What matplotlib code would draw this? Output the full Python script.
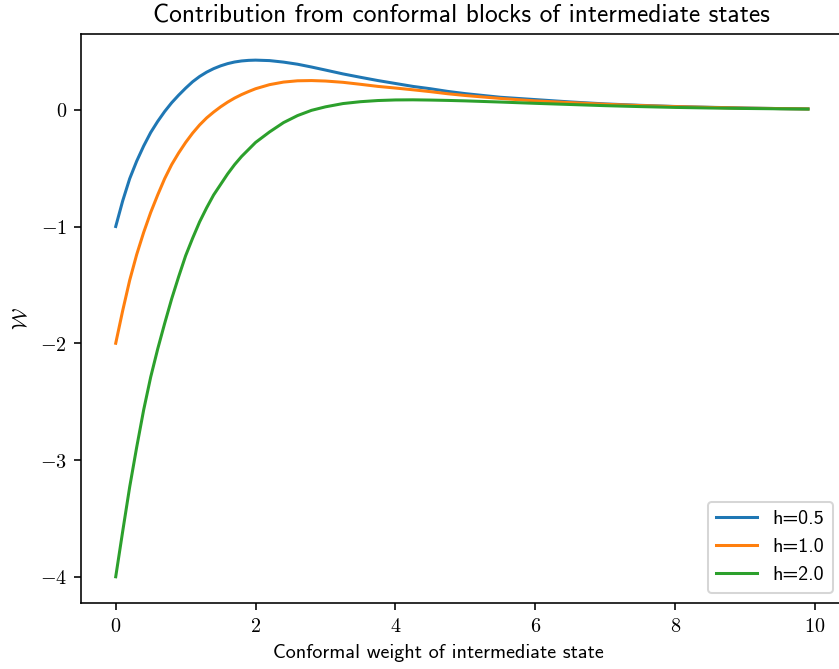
import matplotlib
matplotlib.use("Agg")
import matplotlib.pyplot as plt
from matplotlib.ticker import FuncFormatter

# values
weight = [0.0, 0.1, 0.2, 0.3, 0.4, 0.5, 0.6, 0.7, 0.8, 0.9, 1.0,
          1.1, 1.2, 1.3, 1.4, 1.5, 1.6, 1.7, 1.8, 1.9, 2.0,
          2.2, 2.4, 2.6, 2.8, 3.0,
          3.25, 3.5, 3.75, 4.0,
          4.25, 4.5, 4.75, 5.0,
          5.5, 6.0, 6.5, 7.0, 7.5, 8.0, 8.5, 9.0, 9.5, 9.9]
w_h05 = [-1.00, -0.78, -0.59, -0.44, -0.31, -0.195, -0.10, -0.015, 0.06, 0.125, 0.185,
         0.24, 0.285, 0.322, 0.352, 0.376, 0.395, 0.409, 0.418, 0.423, 0.425,
         0.421, 0.408, 0.39, 0.366, 0.34,
         0.307, 0.278, 0.25, 0.225,
         0.20, 0.18, 0.157, 0.138,
         0.107, 0.087, 0.067, 0.05, 0.038, 0.028, 0.021, 0.015, 0.01, 0.007]
w_h10 = [-2.00, -1.72, -1.46, -1.24, -1.05, -0.88, -0.73, -0.59, -0.47, -0.37, -0.28,
         -0.20, -0.13, -0.07, -0.02, 0.025, 0.065, 0.10, 0.13, 0.156, 0.18,
         0.215, 0.237, 0.248, 0.25, 0.246,
         0.235, 0.218, 0.20, 0.186,
         0.171, 0.155, 0.137, 0.122,
         0.097, 0.076, 0.061, 0.047, 0.036, 0.027, 0.02, 0.014, 0.01, 0.007]
w_h20 = [-4.00, -3.61, -3.23, -2.89, -2.57, -2.29, -2.05, -1.83, -1.62, -1.43, -1.25,
         -1.10, -0.96, -0.84, -0.73, -0.64, -0.55, -0.47, -0.40, -0.34, -0.28,
         -0.19, -0.11, -0.05, -0.005, 0.025,
         0.053, 0.069, 0.079, 0.084,
         0.085, 0.083, 0.08, 0.076,
         0.066, 0.055, 0.045, 0.035, 0.027, 0.02, 0.015, 0.011, 0.008, 0.006]
labels = ["h=0.5", "h=1.0", "h=2.0"]

plt.rcParams['mathtext.fontset'] = 'cm'
sans = ['cmss10', 'DejaVu Sans']

fig = plt.figure(figsize=(839 / 145, 669 / 145), dpi=145)
ax = fig.add_axes([81.1 / 839, 1 - 602.6 / 669, 761.5 / 839, 568.3 / 669])

for ys, lab in zip([w_h05, w_h10, w_h20], labels):
    ax.plot(weight, ys, label=lab)

ax.xaxis.set_major_formatter(FuncFormatter(lambda v, p: f"${v:g}$"))
ax.yaxis.set_major_formatter(FuncFormatter(lambda v, p: f"${v:g}$"))

ax.set_title("Contribution from conformal blocks of intermediate states",
             family=sans, fontsize=12.6)
ax.set_xlabel("Conformal weight of intermediate state", family=sans, x=0.469)
ax.set_ylabel(r"$\mathcal{W}$")
ax.legend(loc="lower right", prop={'family': sans})

fig.savefig("out.png", dpi=145)
